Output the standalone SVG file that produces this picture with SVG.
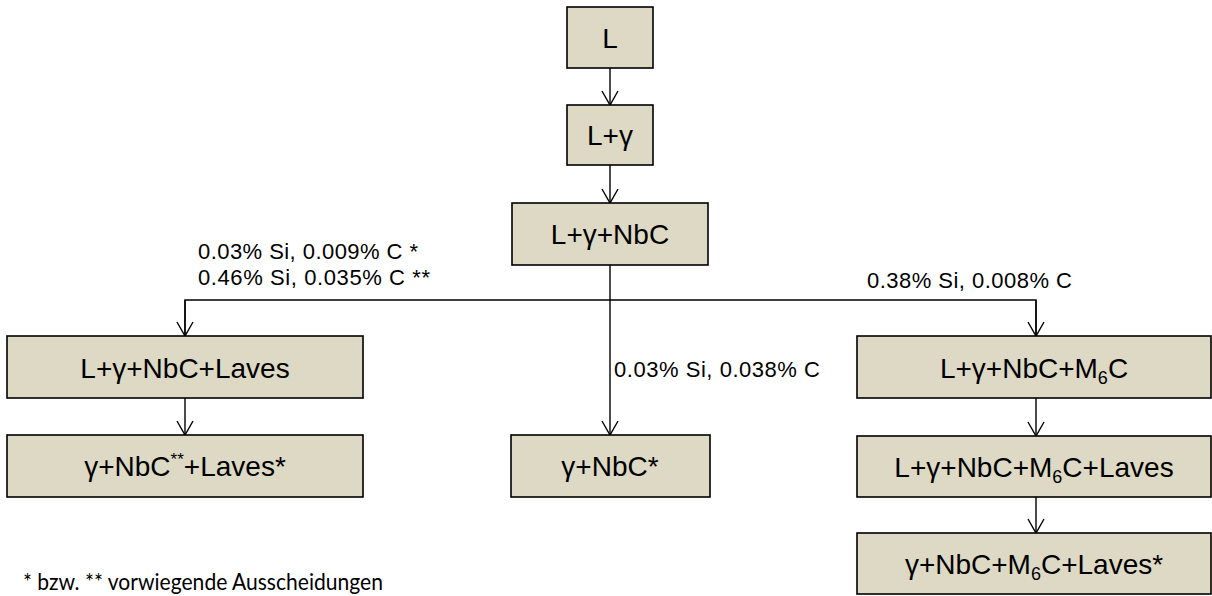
<svg xmlns="http://www.w3.org/2000/svg" width="1212" height="596" viewBox="0 0 1212 596">
<defs>
<style>
.box{fill:#DDD9C4;stroke:#000;stroke-width:1.6}
.bt{font-family:"Liberation Sans",Arial,sans-serif;font-size:28px;fill:#000;text-anchor:middle}
.lb{font-family:"Liberation Sans",Arial,sans-serif;font-size:22px;fill:#000}
.fn{font-family:Lato,"Open Sans",sans-serif;font-size:23px;fill:#000}
.con{fill:none;stroke:#000;stroke-width:1.4}
</style>
<marker id="v" markerWidth="24" markerHeight="24" viewBox="-12 -18 24 24" refX="0" refY="0" orient="0" markerUnits="userSpaceOnUse">
<path d="M-8,-14 L0,0 L8,-14" fill="none" stroke="#000" stroke-width="1.4"/>
</marker>
</defs>
<rect width="1212" height="596" fill="#fff"/>
<g id="connectors">
<line class="con" x1="610" y1="68" x2="610" y2="105" marker-end="url(#v)"/>
<line class="con" x1="610" y1="165" x2="610" y2="203" marker-end="url(#v)"/>
<line class="con" x1="610" y1="265" x2="610" y2="435" marker-end="url(#v)"/>
<polyline class="con" points="185,336 185,300 1036,300 1036,336"/>
<line class="con" x1="185" y1="300" x2="185" y2="336" marker-end="url(#v)"/>
<line class="con" x1="1036" y1="300" x2="1036" y2="336" marker-end="url(#v)"/>
<line class="con" x1="185" y1="398" x2="185" y2="435" marker-end="url(#v)"/>
<line class="con" x1="1036" y1="398" x2="1036" y2="436" marker-end="url(#v)"/>
<line class="con" x1="1036" y1="497" x2="1036" y2="533" marker-end="url(#v)"/>
<text class="lb" x="198" y="259" textLength="220" lengthAdjust="spacing">0.03% Si, 0.009% C *</text>
<text class="lb" x="198" y="285" textLength="232" lengthAdjust="spacing">0.46% Si, 0.035% C **</text>
<text class="lb" x="867" y="288" textLength="205" lengthAdjust="spacing">0.38% Si, 0.008% C</text>
<text class="lb" x="614" y="377" textLength="206" lengthAdjust="spacing">0.03% Si, 0.038% C</text>
</g>
<g id="n-L">
<rect class="box" x="567" y="7" width="86" height="61"/>
<text class="bt" x="610" y="48">L</text>
</g>
<g id="n-Lg">
<rect class="box" x="567" y="105" width="86" height="60"/>
<text class="bt" x="610" y="145">L+γ</text>
</g>
<g id="n-LgNbC">
<rect class="box" x="512" y="203" width="196" height="62"/>
<text class="bt" x="610" y="244">L+γ+NbC</text>
</g>
<g id="n-left1">
<rect class="box" x="7" y="336" width="356" height="62"/>
<text class="bt" x="185" y="378">L+γ+NbC+Laves</text>
</g>
<g id="n-left2">
<rect class="box" x="7" y="435" width="356" height="62"/>
<text class="bt" x="185" y="476">γ+NbC<tspan font-size="17" dy="-11">**</tspan><tspan dy="11">+Laves*</tspan></text>
</g>
<g id="n-mid">
<rect class="box" x="511" y="435" width="199" height="62"/>
<text class="bt" x="610" y="476">γ+NbC*</text>
</g>
<g id="n-right1">
<rect class="box" x="857" y="336" width="354" height="62"/>
<text class="bt" x="1034" y="378">L+γ+NbC+M<tspan font-size="18" dy="6">6</tspan><tspan dy="-6">C</tspan></text>
</g>
<g id="n-right2">
<rect class="box" x="857" y="436" width="354" height="61"/>
<text class="bt" x="1034" y="477">L+γ+NbC+M<tspan font-size="18" dy="6">6</tspan><tspan dy="-6">C+Laves</tspan></text>
</g>
<g id="n-right3">
<rect class="box" x="857" y="533" width="354" height="61"/>
<text class="bt" x="1034" y="574">γ+NbC+M<tspan font-size="18" dy="6">6</tspan><tspan dy="-6">C+Laves*</tspan></text>
</g>
<g id="footnote">
<text class="fn" x="23" y="590" textLength="360" lengthAdjust="spacingAndGlyphs">* bzw. ** vorwiegende Ausscheidungen</text>
</g>
</svg>
